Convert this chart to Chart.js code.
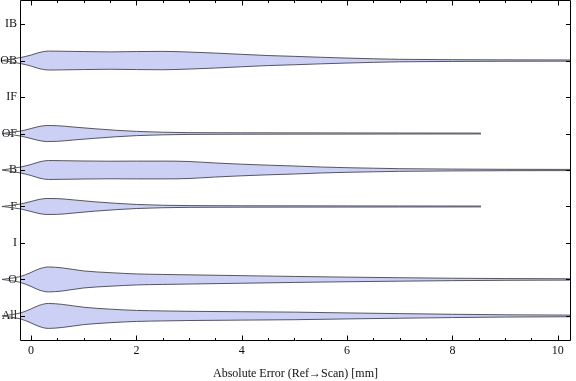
<!DOCTYPE html>
<html><head><meta charset="utf-8">
<script src="https://cdn.jsdelivr.net/npm/chart.js@4"></script>
<style>html,body{margin:0;padding:0;background:#fff}#wrap{width:576px;height:381px;position:relative}</style>
</head><body><div id="wrap"><canvas id="c"></canvas></div>
<script>
// Categories (bottom to top)
const categories = ["All", "O", "I", "F", "B", "OF", "IF", "OB", "IB"];
const xTickValues = [0, 2, 4, 6, 8, 10];
const xTitle = "Absolute Error (Ref\u2192Scan) [mm]";

// Violin outlines: error value (x) and half-width (in category units)
const obX = [-0.55, -0.2, 0, 0.15, 0.33, 0.6, 1.0, 1.5, 2.0, 2.5, 3.0, 3.5, 4.0, 4.5, 5.0, 5.5, 6.0, 6.5, 7.0, 8.0, 9.0, 10.25];
const obW = [0, .082, .151, .219, .260, .255, .247, .238, .247, .252, .233, .205, .170, .137, .115, .090, .068, .049, .034, .024, .019, .016];

const bX = [-0.55, -0.2, 0, 0.15, 0.33, 0.6, 1.0, 1.5, 2.0, 2.5, 3.0, 3.5, 4.0, 4.5, 5.0, 5.5, 6.0, 6.5, 7.0, 8.0, 9.0, 10.25];
const bW = [0, .082, .151, .219, .260, .255, .247, .241, .244, .244, .233, .192, .159, .132, .110, .082, .063, .049, .036, .025, .019, .016];

const ofX = [-0.55, -0.2, 0, 0.15, 0.3, 0.5, 0.8, 1.2, 1.6, 2.0, 2.5, 3.0, 4.0, 6.0, 7.0, 8.54];
const ofW = [0, .068, .137, .192, .219, .214, .178, .132, .090, .058, .036, .024, .019, .016, .014, .012];

const fX = [-0.55, -0.2, 0, 0.15, 0.3, 0.5, 0.8, 1.2, 1.6, 2.0, 2.5, 3.0, 4.0, 6.0, 7.0, 8.54];
const fW = [0, .068, .137, .192, .219, .216, .181, .129, .088, .056, .034, .024, .019, .016, .014, .012];

const oX = [-0.55, -0.2, 0, 0.15, 0.33, 0.6, 1.0, 1.5, 2.0, 2.5, 3.0, 4.0, 5.0, 6.0, 7.0, 8.0, 9.0, 10.25];
const oW = [0, .082, .192, .288, .342, .315, .233, .186, .151, .137, .126, .104, .082, .063, .047, .033, .024, .018];

const allX = [-0.55, -0.2, 0, 0.15, 0.33, 0.6, 1.0, 1.5, 2.0, 2.5, 3.0, 4.0, 5.0, 6.0, 7.0, 8.0, 9.0, 10.25];
const allW = [0, .082, .192, .288, .342, .315, .238, .186, .151, .137, .126, .115, .104, .082, .063, .045, .031, .022];

const violins = [
  { cat: "All", x: allX, w: allW },
  { cat: "O", x: oX, w: oW },
  { cat: "F", x: fX, w: fW },
  { cat: "B", x: bX, w: bW },
  { cat: "OF", x: ofX, w: ofW },
  { cat: "OB", x: obX, w: obW }
];

const FILL = "rgb(203,208,244)";
const EDGE = "rgba(70,70,80,0.9)";

const datasets = [];
violins.forEach(v => {
  const c = categories.indexOf(v.cat) + 1;
  const common = {
    borderColor: EDGE, borderWidth: 1, pointRadius: 0, pointHoverRadius: 0,
    cubicInterpolationMode: "monotone", clip: false
  };
  datasets.push(Object.assign({}, common, {
    label: v.cat + " lower",
    data: v.x.map((x, i) => ({ x: x, y: c - v.w[i] })),
    fill: false
  }));
  datasets.push(Object.assign({}, common, {
    label: v.cat + " upper",
    data: v.x.map((x, i) => ({ x: x, y: c + v.w[i] })),
    fill: "-1", backgroundColor: FILL
  }));
});

const frame = {
  id: "frame",
  afterDraw(chart) {
    const { ctx, chartArea: a, scales: { x, y } } = chart;
    ctx.save();
    ctx.strokeStyle = "#000";
    ctx.lineWidth = 1;
    const L = Math.round(a.left) + 0.5, R = Math.round(a.right) - 0.5;
    const T = Math.round(a.top) + 0.5, B = Math.round(a.bottom) + 0.5;
    ctx.beginPath();
    ctx.rect(L, T, R - L, B - T);
    ctx.stroke();
    ctx.beginPath();
    for (let v = 0; v <= 10.001; v += 0.5) {
      const px = Math.round(x.getPixelForValue(v)) + 0.5;
      const len = (Math.abs(v % 2) < 1e-6) ? 5 : 2.5;
      ctx.moveTo(px, B); ctx.lineTo(px, B - len);
      ctx.moveTo(px, T); ctx.lineTo(px, T + len);
    }
    for (let i = 1; i <= categories.length; i++) {
      const py = Math.round(y.getPixelForValue(i)) + 0.5;
      ctx.moveTo(L, py); ctx.lineTo(L + 4.5, py);
      ctx.moveTo(R, py); ctx.lineTo(R - 4.5, py);
    }
    ctx.stroke();
    ctx.restore();
  }
};

const font = { family: "'Liberation Serif', 'DejaVu Serif', serif", size: 12 };

new Chart(document.getElementById("c"), {
  type: "line",
  data: { datasets },
  plugins: [frame],
  options: {
    responsive: true, maintainAspectRatio: false, animation: false,
    layout: { padding: { left: 0, right: 5, top: 0, bottom: 0 } },
    plugins: { legend: { display: false }, tooltip: { enabled: false }, filler: { propagate: false } },
    scales: {
      x: {
        type: "linear", min: -0.21, max: 10.25,
        afterBuildTicks: s => { s.ticks = xTickValues.map(v => ({ value: v })); },
        afterFit: s => { s.height = 41; s.paddingLeft = 0; s.paddingRight = 0; },
        grid: { display: false, drawTicks: false, tickLength: 0 }, border: { display: false },
        ticks: { font, color: "#111", padding: 4, maxRotation: 0, autoSkip: false, callback: v => String(v) },
        title: { display: true, text: xTitle, font, color: "#111", padding: { top: 2, bottom: 0 } }
      },
      y: {
        type: "linear", min: 0.34, max: 9.66,
        afterBuildTicks: s => { s.ticks = categories.map((c, i) => ({ value: i + 1 })); },
        afterFit: s => { s.width = 20; s.paddingTop = 0; s.paddingBottom = 0; },
        grid: { display: false, drawTicks: false, tickLength: 0 }, border: { display: false },
        ticks: { font, color: "#111", padding: 3, autoSkip: false, callback: v => categories[v - 1] || "" }
      }
    }
  }
});
</script>
</body></html>
